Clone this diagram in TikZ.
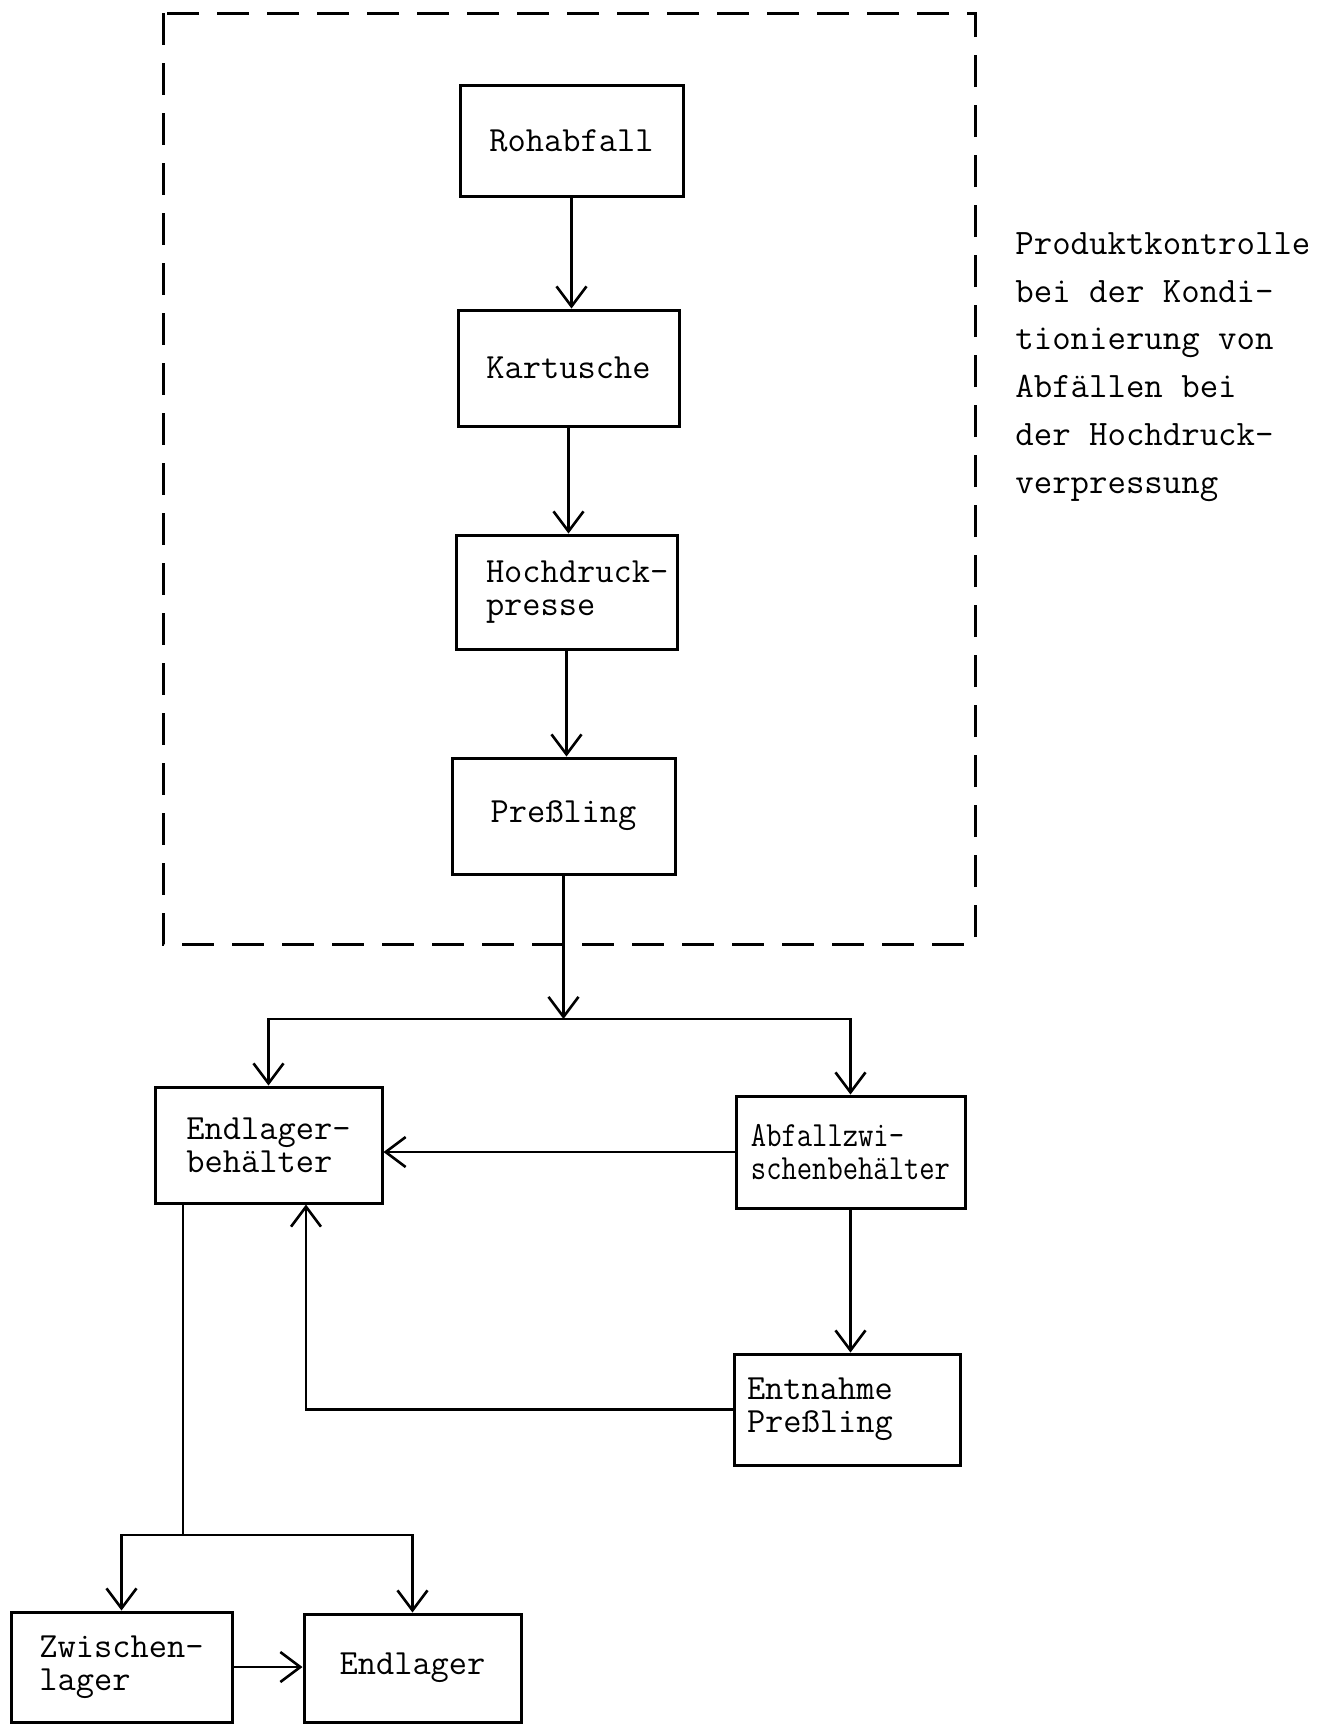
\documentclass[tikz,border=0pt]{standalone}
\usepackage{fontspec}
\usepackage{graphicx}
\usetikzlibrary{arrows.meta}

\begin{document}
\begin{tikzpicture}[x=0.5pt, y=-0.5pt,
    box/.style={draw, line width=1.5pt, minimum width=111pt, minimum height=56pt, inner sep=0pt, align=left,
        font={\ttfamily\fontsize{17.7pt}{16.6pt}\selectfont\lineskiplimit=-10pt}},
    arr/.style={line width=1.3pt, -{Straight Barb[length=10pt, width=15pt]}},
    conn/.style={line width=1.3pt},
    dashframe/.style={line width=1.5pt, dash pattern=on 16pt off 9pt}]
    \useasboundingbox (0,0) rectangle (1336,1726);

    % Konditionierung
    \draw[dashframe] (163,13) rectangle (975,944);
    \node[box, minimum width=111.5pt, minimum height=55.5pt] (roh) at (571.5,140.5) {Rohabfall};
    \node[box, minimum width=110.5pt, minimum height=58pt] (kart) at (568.5,368) {Kartusche};
    \node[box, minimum width=110.5pt, minimum height=57pt, inner xsep=15pt, text width=80.5pt] (hoch) at (566.5,592) {\mbox{Hochdruck-}\\presse};
    \node[box, minimum width=111.5pt, minimum height=58pt] (pres) at (563.5,816) {Preßling};
    \node[anchor=north west, inner sep=0pt, align=left, font={\ttfamily\fontsize{17.9pt}{23.9pt}\selectfont}] (titel) at (1015,232)
        {Produktkontrolle\\bei der Kondi-\\tionierung von\\Abfällen bei\\der Hochdruck-\\verpressung};

    % Behaelter und Lager
    \node[box, minimum width=113.5pt, minimum height=58pt] (endb) at (268.5,1145) {Endlager-\\behälter};
    \node[box, minimum width=114.5pt, minimum height=56pt] (abf) at (850.5,1152) {\scalebox{0.84}[1]{Abfallzwi-}\\\scalebox{0.84}[1]{schenbehälter}};
    \node[box, minimum width=113pt, minimum height=55.5pt, inner xsep=6.5pt, text width=100pt] (entn) at (847,1409.5) {Entnahme\\Preßling};
    \node[box, minimum width=110.5pt, minimum height=55pt] (zw) at (121.5,1667) {Zwischen-\\lager};
    \node[box, minimum width=108.5pt, minimum height=54pt] (el) at (412.5,1668) {Endlager};

    \coordinate (split) at (563.5,1019);
    \coordinate (split2) at (183,1535);

    \draw[arr] (roh.south) -- (roh.south |- kart.north);
    \draw[arr] (kart.south) -- (kart.south |- hoch.north);
    \draw[arr] (hoch.south) -- (hoch.south |- pres.north);
    \draw[arr] (pres.south) -- (split);
    \draw[arr] (split) -| (endb.north);
    \draw[arr] (split) -| (abf.north);
    \draw[arr] (abf.west) -- (abf.west -| endb.east);
    \draw[arr] (abf.south) -- (abf.south |- entn.north);
    \draw[arr] (entn.west) -| ([xshift=18.75pt]endb.south);
    \draw[conn] (split2 |- endb.south) -- (split2);
    \draw[arr] (split2) -| (zw.north);
    \draw[arr] (split2) -| (el.north);
    \draw[arr] (zw.east) -- (zw.east -| el.west);
\end{tikzpicture}
\end{document}
